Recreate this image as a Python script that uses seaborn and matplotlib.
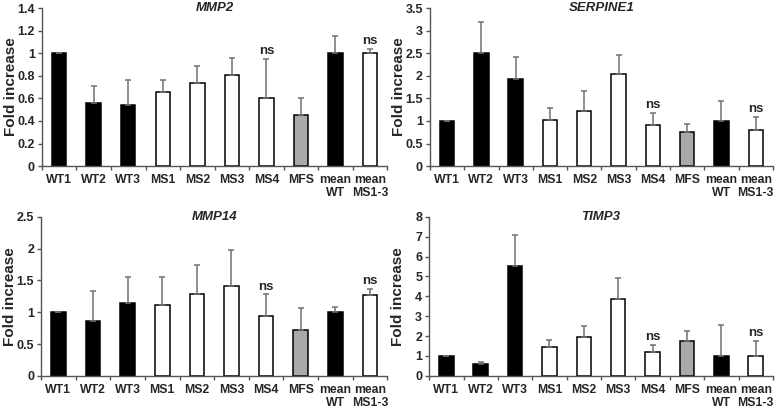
import numpy as np
import pandas as pd
import seaborn as sns
import matplotlib.pyplot as plt

# Samples
labels = ['WT1', 'WT2', 'WT3', 'MS1', 'MS2', 'MS3', 'MS4', 'MFS', 'mean\nWT', 'mean\nMS1-3']
colors = ['black', 'black', 'black', 'white', 'white', 'white', 'white', '#a9a9a9', 'black', 'white']

# Fold increase (bar height) and upper error
mmp2 = [1.0, 0.56, 0.54, 0.66, 0.74, 0.81, 0.60, 0.45, 1.0, 1.0]
mmp2_err = [0.0, 0.15, 0.22, 0.10, 0.15, 0.15, 0.35, 0.15, 0.15, 0.04]

serpine1 = [1.0, 2.50, 1.93, 1.03, 1.23, 2.03, 0.90, 0.75, 1.0, 0.79]
serpine1_err = [0.0, 0.69, 0.48, 0.25, 0.43, 0.43, 0.27, 0.18, 0.44, 0.30]

mmp14 = [1.0, 0.87, 1.15, 1.12, 1.28, 1.42, 0.94, 0.72, 1.0, 1.27]
mmp14_err = [0.0, 0.47, 0.40, 0.43, 0.47, 0.55, 0.34, 0.34, 0.08, 0.09]

timp3 = [1.0, 0.60, 5.50, 1.45, 1.95, 3.88, 1.18, 1.75, 1.0, 1.02]
timp3_err = [0.0, 0.12, 1.60, 0.37, 0.57, 1.02, 0.37, 0.53, 1.57, 0.75]

ns_idx = [6, 9]

panels = [
    ('MMP2', mmp2, mmp2_err, 1.4, 0.2, [0.054, 0.594, 0.445, 0.386]),
    ('SERPINE1', serpine1, serpine1_err, 3.5, 0.5, [0.554, 0.594, 0.442, 0.386]),
    ('MMP14', mmp14, mmp14_err, 2.5, 0.5, [0.053, 0.081, 0.446, 0.389]),
    ('TIMP3', timp3, timp3_err, 8, 1, [0.553, 0.081, 0.443, 0.389]),
]

sns.set_style('white')
plt.rcParams['font.family'] = ['Liberation Sans', 'DejaVu Sans']

fig = plt.figure(figsize=(7.76, 4.09), dpi=100)

for title, vals, errs, ymax, step, pos in panels:
    ax = fig.add_axes(pos)
    df = pd.DataFrame({'sample': labels, 'value': vals})
    sns.barplot(data=df, x='sample', y='value', hue='sample', palette=colors,
                legend=False, width=0.42, edgecolor='black', linewidth=1.1, ax=ax)
    x = np.arange(len(labels))
    ax.errorbar(x, vals, yerr=[np.zeros(len(vals)), errs], fmt='none',
                ecolor='#707070', elinewidth=1.1, capsize=2.5, capthick=1.1)
    for i in ns_idx:
        ax.text(i, vals[i] + errs[i] + ymax * 0.012, 'ns', ha='center', va='bottom',
                fontsize=9.5, fontweight='bold')
    ax.set_xlim(-0.5, len(labels) - 0.5)
    ax.set_ylim(0, ymax)
    yt = np.arange(0, ymax + step / 2, step)
    ax.set_yticks(yt)
    ax.set_yticklabels([f'{v:g}' for v in yt], fontsize=9, fontweight='bold')
    ax.set_xticks(x)
    ax.set_xticklabels(labels, fontsize=8.8, fontweight='bold', linespacing=1.05)
    ax.set_xticks(np.arange(-0.5, len(labels), 1), minor=True)
    ax.tick_params(axis='x', which='major', length=0, pad=6)
    ax.tick_params(axis='x', which='minor', length=3, width=1, color='#555555', direction='out', bottom=True)
    ax.tick_params(axis='y', length=3, width=1, color='#555555', direction='out', left=True, pad=2)
    ax.set_xlabel('')
    ax.set_ylabel('Fold increase', fontsize=11, fontweight='bold')
    ax.yaxis.set_label_coords(-24 / (pos[2] * 776), 0.5)
    ax.text(0.5, 1.0, title, transform=ax.transAxes, ha='center', va='center',
            fontsize=9.5, fontweight='bold', style='italic')
    sns.despine(ax=ax)
    for s in ['left', 'bottom']:
        ax.spines[s].set_color('#555555')
        ax.spines[s].set_linewidth(1.0)

fig.savefig('out.png', dpi=100)
